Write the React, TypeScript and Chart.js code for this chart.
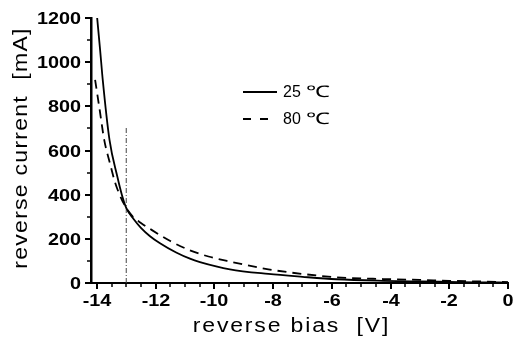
import React, { useEffect, useRef } from "react";
import { Chart, registerables } from "chart.js";

Chart.register(...registerables);

// 25 °C curve (solid)
const bias25 = [-13.99, -13.89, -13.8, -13.57, -13.3, -13.15, -13.0, -12.75, -12.5, -12.19, -11.85, -11.3, -10.83, -10.49, -9.47, -8.16, -7.0, -5.84, -4.25, -3.0, -2.0, -1.0, 0];
const current25 = [1200, 1056, 920, 648, 480, 400, 340, 290, 250, 212, 180, 138, 110, 95, 62, 41, 28, 17, 10, 7, 5, 3, 2];

// 80 °C curve (dashed)
const bias80 = [-14.06, -13.9, -13.75, -13.55, -13.38, -13.2, -13.0, -12.77, -12.5, -12.19, -11.5, -10.83, -10.2, -9.47, -8.16, -7.0, -5.84, -4.25, -3.0, -2.0, -1.0, 0];
const current80 = [920, 780, 648, 540, 455, 392, 340, 300, 272, 245, 190, 148, 120, 97, 62, 41, 26, 18, 14, 10, 7, 4];

// vertical marker (dash-dot)
const markerBias = [-13, -13];
const markerCurrent = [0, 710];

const seriesValues = ["25", "80"];
const seriesUnit = "\u2103";

const xTicks = [-14, -13.5, -13, -12.5, -12, -11.5, -11, -10.5, -10, -9.5, -9, -8.5, -8, -7.5, -7, -6.5, -6, -5.5, -5, -4.5, -4, -3.5, -3, -2.5, -2, -1.5, -1, -0.5, 0];
const xLabels = [-14, -12, -10, -8, -6, -4, -2, 0];
const yTicks = [0, 100, 200, 300, 400, 500, 600, 700, 800, 900, 1000, 1100, 1200];
const yLabels = [0, 200, 400, 600, 800, 1000, 1200];

const xTitle = "reverse bias  [V]";
const yTitle = "reverse current  [mA]";

const FONT = '"Liberation Sans", Arial, Helvetica, sans-serif';

const zip = (xs: number[], ys: number[]) => xs.map((x, i) => ({ x, y: ys[i] }));

const decor = {
  id: "decor",
  afterDraw(chart: any) {
    const ctx: CanvasRenderingContext2D = chart.ctx;
    const xs = chart.scales.x;
    const ys = chart.scales.y;
    const { left, bottom } = chart.chartArea;
    ctx.save();
    ctx.strokeStyle = "#000";
    ctx.fillStyle = "#000";
    ctx.setLineDash([]);
    // tick marks + labels
    ctx.font = `bold 16.5px ${FONT}`;
    ctx.textBaseline = "alphabetic";
    xTicks.forEach((v) => {
      const px = Math.round(xs.getPixelForValue(v));
      const major = xLabels.includes(v);
      ctx.lineWidth = major ? 2 : 1.5;
      ctx.beginPath();
      ctx.moveTo(px, bottom);
      ctx.lineTo(px, bottom + (major ? 6 : 4));
      ctx.stroke();
      if (major) {
        ctx.save();
        ctx.translate(px, 305.5);
        ctx.scale(1.2, 1);
        ctx.textAlign = "center";
        ctx.fillText(String(v), 0, 0);
        ctx.restore();
      }
    });
    yTicks.forEach((v) => {
      const py = Math.round(ys.getPixelForValue(v));
      const major = yLabels.includes(v);
      ctx.lineWidth = major ? 2 : 1.5;
      ctx.beginPath();
      ctx.moveTo(left, py);
      ctx.lineTo(left - (major ? 6 : 4), py);
      ctx.stroke();
      if (major) {
        ctx.save();
        ctx.translate(81, py + 5.7);
        ctx.scale(1.2, 1);
        ctx.textAlign = "right";
        ctx.fillText(String(v), 0, 0);
        ctx.restore();
      }
    });

    // axis titles
    ctx.font = `20px ${FONT}`;
    ctx.textAlign = "center";
    ctx.save();
    (ctx as any).letterSpacing = "1.6px";
    ctx.translate(291.5, 332);
    ctx.scale(1.15, 1);
    ctx.fillText(xTitle, 0, 0);
    ctx.restore();
    ctx.save();
    (ctx as any).letterSpacing = "1.1px";
    ctx.translate(26.5, 148);
    ctx.rotate(-Math.PI / 2);
    ctx.scale(1.15, 1);
    ctx.fillText(yTitle, 0, 0);
    ctx.restore();
    ctx.restore();

    // legend
    ctx.save();
    const ds = chart.data.datasets;
    const rows = [
      { y: 92, ds: ds[0], val: seriesValues[0] },
      { y: 119, ds: ds[1], val: seriesValues[1] },
    ];
    ctx.fillStyle = "#000";
    ctx.textAlign = "left";
    ctx.textBaseline = "alphabetic";
    rows.forEach((r, i) => {
      ctx.strokeStyle = r.ds.borderColor;
      ctx.lineWidth = r.ds.borderWidth;
      ctx.setLineDash(i === 0 ? [] : [8, 9]);
      ctx.beginPath();
      ctx.moveTo(243, r.y);
      ctx.lineTo(277, r.y);
      ctx.stroke();
      ctx.font = `16px ${FONT}`;
      ctx.fillText(r.val, 283, r.y + 5);
      ctx.save();
      ctx.translate(306, r.y + 5);
      ctx.scale(1.5, 1);
      ctx.fillText(seriesUnit, 0, 0);
      ctx.restore();
    });
    ctx.restore();
  },
};

export default function App() {
  const ref = useRef<HTMLCanvasElement | null>(null);
  useEffect(() => {
    if (!ref.current) return;
    const chart = new Chart(ref.current, {
      type: "line",
      data: {
        datasets: [
          {
            label: seriesValues[0] + " " + seriesUnit,
            data: zip(bias25, current25),
            borderColor: "#000",
            borderWidth: 1.8,
            pointRadius: 0,
            cubicInterpolationMode: "monotone",
            fill: false,
          },
          {
            label: seriesValues[1] + " " + seriesUnit,
            data: zip(bias80, current80),
            borderColor: "#000",
            borderWidth: 1.8,
            borderDash: [9, 6],
            pointRadius: 0,
            cubicInterpolationMode: "monotone",
            fill: false,
          },
          {
            label: "marker",
            data: zip(markerBias, markerCurrent),
            borderColor: "#444",
            borderWidth: 1,
            borderDash: [5, 2, 1, 2],
            pointRadius: 0,
            fill: false,
          },
        ],
      },
      options: {
        responsive: false,
        animation: false,
        devicePixelRatio: 1,
        layout: { padding: { top: 18, right: 6, left: 0, bottom: 0 } },
        plugins: { legend: { display: false }, tooltip: { enabled: false } },
        scales: {
          x: {
            type: "linear",
            min: -14.2,
            max: 0,
            afterBuildTicks: (axis: any) => {
              axis.ticks = xTicks.map((value) => ({ value }));
            },
            afterFit: (s: any) => {
              s.height = 61;
              s.paddingLeft = 0;
              s.paddingRight = 0;
            },
            ticks: { display: false },
            grid: { display: false, drawTicks: false },
            border: { display: true, color: "#000", width: 2 },
          },
          y: {
            type: "linear",
            min: 0,
            max: 1200,
            afterBuildTicks: (axis: any) => {
              axis.ticks = yTicks.map((value) => ({ value }));
            },
            afterFit: (s: any) => {
              s.width = 91;
              s.paddingTop = 0;
              s.paddingBottom = 0;
            },
            ticks: { display: false },
            grid: { display: false, drawTicks: false },
            border: { display: true, color: "#000", width: 2.5 },
          },
        },
      },
      plugins: [decor],
    } as any);
    return () => chart.destroy();
  }, []);
  return (
    <div style={{ position: "fixed", left: 0, top: 0, width: 514, height: 344 }}>
      <canvas ref={ref} width={514} height={344} />
    </div>
  );
}
